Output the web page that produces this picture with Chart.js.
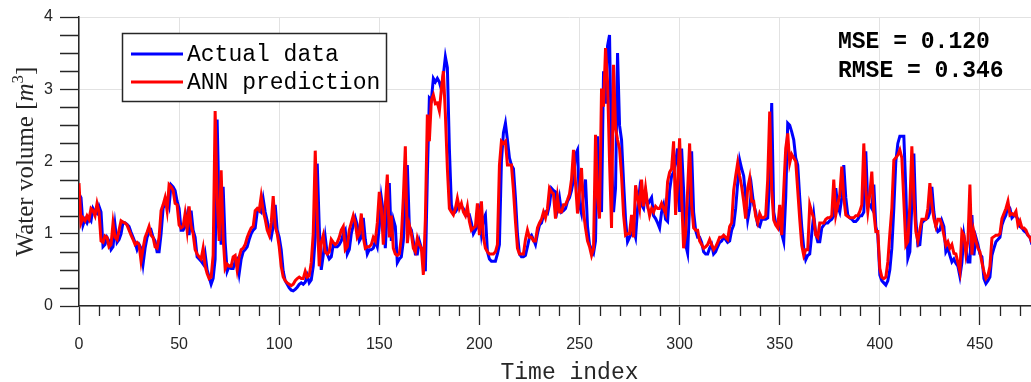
<!DOCTYPE html>
<html lang="en">
<head>
  <meta charset="UTF-8">
  <title>Water volume: actual data vs ANN prediction</title>
  <script src="https://cdn.jsdelivr.net/npm/chart.js"></script>
  <style>
    html, body { margin: 0; padding: 0; background: #fff; overflow: hidden; }
    #wrap { width: 1031px; height: 382px; overflow: hidden; }
  </style>
</head>
<body>
  <div id="wrap"><canvas id="volumeChart" width="1060" height="382"></canvas></div>

  <script>
    // measured water volume, one value per time index (0..476)
    const actualData = [
      1.55, 1.50, 1.12, 1.20, 1.15, 1.22, 1.18, 1.35, 1.30, 1.28,
      1.38, 1.30, 0.82, 0.85, 0.95, 0.90, 0.78, 0.82, 1.12, 0.88,
      0.92, 1.00, 1.16, 1.15, 1.13, 1.10, 1.02, 0.95, 0.88, 0.78,
      0.85, 0.80, 0.58, 0.80, 0.95, 1.02, 1.05, 0.95, 0.90, 0.75,
      0.75, 1.00, 1.35, 1.42, 1.48, 1.38, 1.68, 1.65, 1.60, 1.45,
      1.35, 1.05, 1.05, 1.10, 1.25, 0.98, 1.32, 1.05, 0.95, 0.68,
      0.65, 0.62, 0.58, 0.72, 0.50, 0.40, 0.30, 0.38, 0.65, 2.58,
      1.30, 0.85, 1.65, 0.88, 0.48, 0.55, 0.52, 0.52, 0.62, 0.65,
      0.45, 0.65, 0.75, 0.78, 0.82, 0.92, 1.00, 1.05, 1.08, 1.30,
      1.33, 1.30, 1.48, 1.30, 1.18, 1.02, 0.95, 1.10, 1.40, 1.05,
      0.95, 0.78, 0.48, 0.35, 0.30, 0.25, 0.22, 0.21, 0.23, 0.26,
      0.30, 0.32, 0.30, 0.33, 0.42, 0.32, 0.36, 0.55, 0.95, 1.97,
      1.10, 0.50, 0.70, 0.95, 0.72, 0.65, 0.68, 0.85, 0.82, 0.82,
      0.85, 0.90, 1.00, 1.05, 0.72, 0.78, 1.00, 1.12, 1.22, 1.12,
      0.90, 0.95, 1.22, 0.92, 0.72, 0.78, 0.78, 0.80, 0.90, 0.82,
      1.10, 1.50, 1.30, 0.80, 1.35, 1.70, 0.90, 1.20, 1.10, 0.60,
      0.65, 0.68, 0.90, 1.45, 1.95, 1.10, 1.05, 0.90, 0.72, 0.72,
      0.90, 0.80, 0.78, 0.48, 1.80, 2.88, 2.85, 3.15, 3.10, 3.15,
      3.10, 3.00, 3.20, 3.45, 3.30, 2.18, 1.40, 1.28, 1.30, 1.35,
      1.40, 1.38, 1.35, 1.28, 1.25, 1.26, 1.15, 1.00, 1.05, 1.10,
      1.28, 1.00, 1.20, 1.26, 0.75, 0.65, 0.62, 0.62, 0.62, 0.72,
      0.85, 2.00, 2.40, 2.53, 2.30, 2.05, 1.95, 1.90, 1.50, 1.00,
      0.72, 0.68, 0.68, 0.70, 0.82, 0.95, 0.98, 0.92, 0.85, 1.00,
      1.12, 1.15, 1.25, 1.30, 1.28, 1.40, 1.63, 1.60, 1.58, 1.35,
      1.50, 1.30, 1.32, 1.35, 1.45, 1.50, 1.60, 1.75, 2.10, 2.16,
      1.40, 1.28, 1.55, 1.75, 1.10, 0.85, 0.78, 0.73, 0.90, 2.35,
      1.50, 1.30, 3.25, 2.80, 3.60, 3.75, 2.00, 1.30, 1.63, 3.50,
      2.50, 2.30, 1.72, 1.20, 0.89, 0.95, 1.00, 1.05, 0.95, 1.35,
      1.60, 1.40, 1.35, 1.58, 1.40, 1.45, 1.50, 1.25, 1.21, 1.15,
      1.08, 1.30, 1.40, 1.20, 1.17, 1.60, 1.80, 1.85, 2.00, 2.18,
      1.30, 2.18, 1.60, 0.85, 0.73, 1.40, 2.14, 1.30, 1.05, 0.95,
      0.95, 0.88, 0.75, 0.72, 0.72, 0.80, 0.85, 0.72, 0.75, 0.82,
      0.88, 0.90, 0.95, 0.92, 0.88, 0.90, 1.05, 1.12, 1.35, 1.70,
      2.02, 1.90, 1.80, 1.50, 1.19, 1.35, 1.63, 1.40, 1.30, 1.12,
      1.10, 1.20, 1.20, 1.20, 1.22, 1.80, 2.81, 1.30, 1.15, 1.10,
      1.10, 1.00, 0.89, 1.50, 2.53, 2.50, 2.41, 2.30, 2.05, 1.95,
      1.50, 1.10, 0.80, 0.64, 0.70, 0.72, 1.00, 1.26, 1.00, 0.89,
      0.89, 1.08, 1.12, 1.15, 1.15, 1.18, 1.20, 1.25, 1.63, 1.38,
      1.30, 1.50, 1.95, 1.50, 1.26, 1.22, 1.20, 1.17, 1.17, 1.20,
      1.25, 1.25, 1.30, 2.14, 1.40, 1.40, 1.35, 1.68, 1.10, 0.98,
      0.43, 0.35, 0.32, 0.29, 0.35, 0.50, 0.80, 1.35, 2.00, 2.25,
      2.35, 2.35, 2.35, 1.60, 0.66, 0.75, 1.40, 2.11, 1.20, 0.84,
      0.85, 1.15, 1.18, 1.20, 1.22, 1.30, 1.65, 1.30, 1.10, 1.03,
      1.05, 1.18, 1.10, 0.75, 0.80, 0.70, 0.61, 0.65, 0.59, 0.55,
      0.41, 0.60, 0.98, 0.80, 0.61, 0.61, 1.26, 0.70, 0.95, 0.85,
      0.72, 0.68, 0.38, 0.31, 0.35, 0.40, 0.70, 0.80, 0.89, 0.92,
      0.95, 1.12, 1.20, 1.26, 1.40, 1.35, 1.22, 1.25, 1.25, 1.20,
      1.10, 1.08, 1.04, 1.02, 0.98, 0.95, 0.85
    ];

    // ANN model output for the same time indices
    const annPrediction = [
      1.70, 1.15, 1.22, 1.18, 1.25, 1.20, 1.35, 1.32, 1.25, 1.42,
      1.30, 0.90, 0.88, 0.97, 0.95, 0.82, 0.85, 1.15, 0.95, 0.92,
      1.05, 1.18, 1.16, 1.15, 1.12, 1.05, 0.98, 0.92, 0.85, 0.88,
      0.85, 0.62, 0.80, 0.95, 1.02, 1.10, 0.98, 0.95, 0.82, 0.80,
      0.95, 1.32, 1.40, 1.50, 1.32, 1.68, 1.65, 1.60, 1.42, 1.40,
      1.12, 1.08, 1.10, 1.28, 1.05, 1.38, 1.10, 1.00, 0.78, 0.72,
      0.68, 0.65, 0.80, 0.55, 0.45, 0.38, 0.40, 0.70, 2.70, 1.50,
      0.90, 1.88, 0.95, 0.52, 0.58, 0.55, 0.55, 0.68, 0.70, 0.50,
      0.68, 0.78, 0.80, 0.85, 0.95, 1.02, 1.08, 1.10, 1.32, 1.35,
      1.32, 1.52, 1.32, 1.20, 1.05, 0.98, 1.15, 1.52, 1.10, 1.00,
      0.82, 0.55, 0.40, 0.35, 0.32, 0.30, 0.28, 0.30, 0.35, 0.38,
      0.40, 0.38, 0.38, 0.48, 0.40, 0.42, 0.60, 1.00, 2.15, 1.20,
      0.55, 0.88, 0.98, 0.75, 0.72, 0.75, 0.92, 0.88, 0.85, 0.88,
      0.95, 1.05, 1.10, 0.78, 0.82, 1.05, 1.15, 1.25, 1.15, 0.95,
      1.00, 1.28, 0.95, 0.80, 0.82, 0.82, 0.85, 0.95, 0.90, 1.15,
      1.58, 1.35, 0.85, 1.40, 1.82, 0.95, 1.25, 0.80, 0.72, 0.70,
      0.72, 0.95, 1.50, 2.21, 0.87, 1.12, 1.00, 0.80, 0.75, 0.94,
      0.85, 0.80, 0.43, 1.20, 2.65, 2.28, 2.85, 2.92, 2.80, 2.81,
      2.70, 3.00, 3.25, 2.65, 1.90, 1.35, 1.30, 1.26, 1.35, 1.49,
      1.35, 1.42, 1.30, 1.25, 1.38, 1.17, 1.05, 1.08, 1.10, 1.42,
      0.98, 1.45, 0.95, 0.80, 0.75, 0.72, 0.72, 0.72, 0.75, 0.85,
      1.95, 2.28, 2.25, 2.28, 1.95, 1.95, 1.95, 1.60, 1.17, 0.80,
      0.72, 0.72, 0.72, 0.92, 1.05, 0.95, 0.95, 0.90, 0.90, 1.08,
      1.15, 1.20, 1.30, 1.22, 1.35, 1.63, 1.58, 1.55, 1.21, 1.51,
      1.30, 1.30, 1.40, 1.40, 1.47, 1.55, 1.75, 2.16, 1.70, 1.28,
      1.60, 1.91, 1.30, 1.08, 0.90, 0.82, 0.70, 0.80, 2.37, 1.50,
      1.21, 3.01, 2.76, 3.57, 3.10, 2.00, 1.08, 3.34, 2.46, 2.30,
      2.18, 1.80, 1.26, 0.98, 1.00, 1.00, 1.26, 0.95, 1.67, 1.50,
      1.35, 1.75, 1.38, 1.63, 1.40, 1.25, 1.35, 1.30, 1.38, 1.35,
      1.35, 1.42, 1.35, 1.28, 1.72, 1.85, 1.90, 2.28, 1.26, 1.70,
      2.32, 1.50, 0.80, 1.00, 1.60, 2.25, 1.40, 1.08, 1.05, 1.05,
      0.90, 0.85, 0.80, 0.82, 0.85, 0.92, 0.85, 0.78, 0.82, 0.88,
      0.95, 0.95, 0.98, 0.95, 0.92, 1.10, 1.15, 1.60, 1.80, 1.98,
      1.80, 1.65, 1.45, 1.21, 1.63, 1.77, 1.45, 1.45, 1.24, 1.15,
      1.28, 1.22, 1.22, 1.25, 1.75, 2.69, 1.60, 1.19, 1.12, 1.08,
      1.40, 0.98, 1.60, 2.18, 2.39, 1.98, 2.10, 2.05, 2.00, 1.60,
      1.20, 0.84, 0.70, 0.78, 0.78, 1.40, 1.30, 1.21, 0.98, 0.95,
      1.15, 1.15, 1.15, 1.20, 1.22, 1.22, 1.25, 1.75, 1.26, 1.40,
      1.54, 1.93, 1.50, 1.26, 1.24, 1.22, 1.22, 1.22, 1.25, 1.25,
      1.31, 1.40, 2.25, 1.60, 1.31, 1.55, 1.86, 1.30, 1.03, 1.03,
      0.52, 0.40, 0.38, 0.40, 0.61, 1.00, 1.35, 2.02, 2.05, 2.09,
      2.16, 2.05, 1.45, 0.84, 0.89, 1.40, 2.21, 1.50, 1.03, 0.90,
      1.05, 1.20, 1.20, 1.20, 1.35, 1.70, 1.40, 1.21, 1.10, 1.20,
      1.20, 1.12, 0.98, 0.84, 0.89, 0.80, 0.85, 0.73, 0.72, 0.60,
      0.48, 1.03, 0.98, 0.72, 0.90, 1.68, 0.71, 1.03, 0.90, 0.80,
      0.75, 0.60, 0.48, 0.38, 0.42, 0.55, 0.94, 0.96, 0.98, 0.98,
      1.00, 1.21, 1.28, 1.35, 1.45, 1.26, 1.28, 1.26, 1.31, 1.12,
      1.18, 1.08, 1.08, 1.05, 0.98, 0.95, 0.88
    ];

    const seriesNames = ['Actual data', 'ANN prediction'];
    const seriesColors = ['#0000ff', '#ff0000'];
    const xTickValues = [0, 50, 100, 150, 200, 250, 300, 350, 400, 450];
    const yTickValues = [0, 1, 2, 3, 4];
    const errorLines = ['MSE = 0.120', 'RMSE = 0.346'];
    const xTitle = 'Time index';
    const yTitle = ['Water volume [', 'm', '3', ']'];

    function toPoints(values) {
      return values.map((v, i) => ({ x: i, y: v }));
    }

    // minor ticks, legend box, axis titles and the error text
    const decorations = {
      id: 'decorations',
      afterDraw(chart) {
        const ctx = chart.ctx;
        const xs = chart.scales.x;
        const ys = chart.scales.y;
        const bottom = chart.chartArea.bottom;
        const left = chart.chartArea.left;

        ctx.save();
        ctx.strokeStyle = '#262626';
        ctx.lineWidth = 1.3;
        ctx.beginPath();
        for (let v = 10; v <= xs.max; v += 10) {
          if (v % 50 === 0) continue;
          const px = Math.round(xs.getPixelForValue(v)) + 0.5;
          ctx.moveTo(px, bottom);
          ctx.lineTo(px, bottom + 10);
        }
        for (let v = 0.25; v < ys.max; v += 0.25) {
          if (Number.isInteger(v)) continue;
          const py = Math.round(ys.getPixelForValue(v)) + 0.5;
          ctx.moveTo(left, py);
          ctx.lineTo(left - 19, py);
        }
        ctx.stroke();

        // legend
        ctx.fillStyle = '#ffffff';
        ctx.fillRect(122, 33, 264, 68);
        ctx.strokeStyle = '#262626';
        ctx.lineWidth = 1.5;
        ctx.strokeRect(122.5, 33.5, 264, 68);
        ctx.font = '23px "Liberation Mono", monospace';
        ctx.textBaseline = 'middle';
        ctx.textAlign = 'left';
        [54, 82].forEach((y, i) => {
          ctx.strokeStyle = seriesColors[i];
          ctx.lineWidth = 3;
          ctx.beginPath();
          ctx.moveTo(131, y);
          ctx.lineTo(183, y);
          ctx.stroke();
          ctx.fillStyle = '#000000';
          ctx.fillText(seriesNames[i], 187, y + 1);
        });

        // MSE / RMSE
        ctx.font = 'bold 23px "Liberation Mono", monospace';
        ctx.fillText(errorLines[0], 838, 42);
        ctx.fillText(errorLines[1], 838, 71);

        // x title
        ctx.fillStyle = '#262626';
        ctx.font = '23px "Liberation Mono", monospace';
        ctx.textAlign = 'center';
        ctx.fillText(xTitle, (xs.left + xs.right) / 2, 373);

        // y title with italic m and superscript 3
        const normal = '25px "Liberation Serif", serif';
        const italic = 'italic 25px "Liberation Serif", serif';
        const small = '17px "Liberation Serif", serif';
        const parts = [[yTitle[0], normal, 0], [yTitle[1], italic, 0], [yTitle[2], small, -10], [yTitle[3], normal, 0]];
        let total = 0;
        parts.forEach(p => { ctx.font = p[1]; total += ctx.measureText(p[0]).width; });
        ctx.translate(25, (chart.chartArea.top + bottom) / 2);
        ctx.rotate(-Math.PI / 2);
        ctx.textAlign = 'left';
        ctx.textBaseline = 'alphabetic';
        let cx = -total / 2;
        parts.forEach(p => {
          ctx.font = p[1];
          ctx.fillText(p[0], cx, 8 + p[2]);
          cx += ctx.measureText(p[0]).width;
        });
        ctx.restore();
      }
    };

    const ctx = document.getElementById('volumeChart').getContext('2d');
    new Chart(ctx, {
      type: 'line',
      data: {
        datasets: [
          {
            label: seriesNames[0],
            data: toPoints(actualData),
            borderColor: seriesColors[0],
            borderWidth: 3,
            pointRadius: 0,
            tension: 0,
            order: 2
          },
          {
            label: seriesNames[1],
            data: toPoints(annPrediction),
            borderColor: seriesColors[1],
            borderWidth: 3,
            pointRadius: 0,
            tension: 0,
            order: 1
          }
        ]
      },
      options: {
        responsive: false,
        animation: false,
        events: [],
        layout: { padding: { top: 17, left: 0, right: 0, bottom: 0 } },
        plugins: {
          legend: { display: false },
          tooltip: { enabled: false }
        },
        scales: {
          x: {
            type: 'linear',
            min: 0,
            max: 490,
            afterBuildTicks: scale => { scale.ticks = xTickValues.map(v => ({ value: v })); },
            afterFit: scale => { scale.height = 76; },
            grid: { color: '#e2e2e2', lineWidth: 1, tickColor: '#262626', tickLength: 19, tickWidth: 1.3 },
            border: { color: '#262626', width: 1.5 },
            ticks: {
              color: '#262626',
              font: { family: 'Liberation Sans', size: 16 },
              padding: 10,
              maxRotation: 0
            }
          },
          y: {
            min: 0,
            max: 4,
            afterBuildTicks: scale => { scale.ticks = yTickValues.map(v => ({ value: v })); },
            afterFit: scale => { scale.width = 79; },
            grid: { color: '#e2e2e2', lineWidth: 1, tickColor: '#262626', tickLength: 19, tickWidth: 1.3 },
            border: { color: '#262626', width: 1.5 },
            ticks: {
              color: '#262626',
              font: { family: 'Liberation Sans', size: 16 },
              padding: 7
            }
          }
        }
      },
      plugins: [decorations]
    });
  </script>
</body>
</html>
